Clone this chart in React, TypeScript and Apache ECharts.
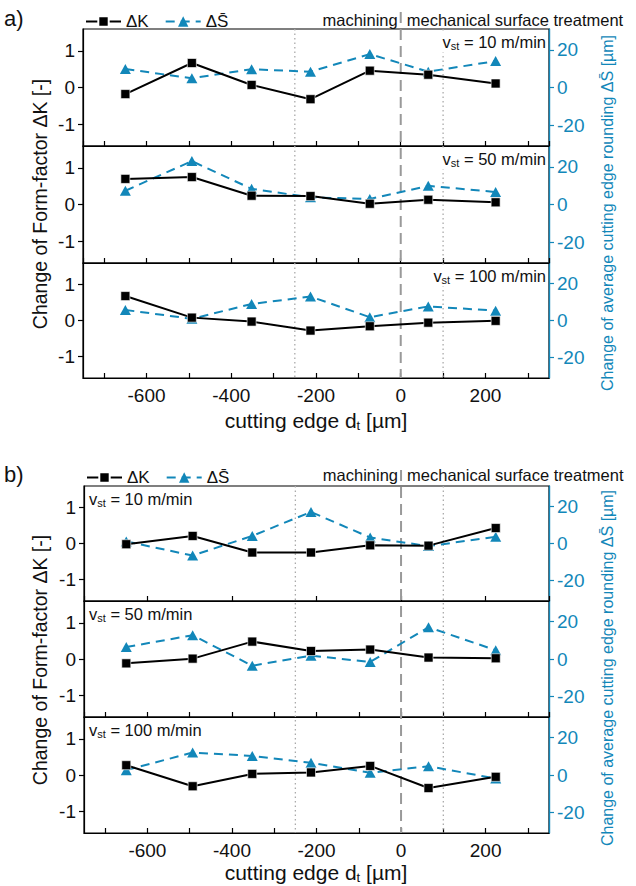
import React, { useEffect, useRef } from 'react';
import * as echarts from 'echarts';

// x positions (cutting edge d_t in µm)
const X_POS = [-650, -493, -352, -213, -73, 65, 224];

// panel a
const A10_K = [-0.18, 0.67, 0.07, -0.32, 0.46, 0.35, 0.11];
const A10_S = [9.8, 4.9, 9.7, 8.4, 17.7, 8.4, 14.0];
const A50_K = [0.7, 0.75, 0.24, 0.23, 0.02, 0.13, 0.06];
const A50_S = [7.3, 23.0, 8.3, 3.8, 2.9, 9.9, 6.6];
const A100_K = [0.68, 0.08, -0.03, -0.28, -0.16, -0.06, -0.01];
const A100_S = [5.7, 0.9, 8.9, 12.9, 1.8, 7.6, 5.3];
// panel b
const B10_K = [-0.02, 0.21, -0.25, -0.25, -0.05, -0.06, 0.43];
const B10_S = [1.1, -6.5, 4.1, 17.0, 3.2, -1.4, 3.6];
const B50_K = [-0.12, 0.01, 0.48, 0.22, 0.26, 0.04, 0.02];
const B50_S = [6.4, 12.7, -3.6, 1.8, -1.6, 17.0, 4.7];
const B100_K = [0.27, -0.31, 0.03, 0.07, 0.25, -0.36, -0.05];
const B100_S = [2.6, 12.0, 10.2, 6.5, 1.2, 4.7, -1.9];

const K_SETS = [A10_K, A50_K, A100_K, B10_K, B50_K, B100_K];
const S_SETS = [A10_S, A50_S, A100_S, B10_S, B50_S, B100_S];
const SPEEDS = ['10', '50', '100', '10', '50', '100'];
const REF_LINES_DOTTED = [-250, 100];
const REF_LINE_DASHED = 0;
const NAME_K = 'ΔK';
const NAME_S = 'ΔS\u0304';

const BLUE = '#1287b9';
const FONT = 'Liberation Sans, Arial, Helvetica, sans-serif';

const GRIDS = [
  { left: 83, top: 29, width: 466, height: 117 },
  { left: 83, top: 146, width: 466, height: 117 },
  { left: 83, top: 263, width: 466, height: 115 },
  { left: 84, top: 486, width: 465, height: 115 },
  { left: 84, top: 601, width: 465, height: 116 },
  { left: 84, top: 717, width: 465, height: 116 },
];

export default function App() {
  const ref = useRef<HTMLDivElement>(null);
  useEffect(() => {
    if (!ref.current) return;
    const chart = echarts.init(ref.current, null, { renderer: 'svg' });
    const xAxis: any[] = [];
    const yAxis: any[] = [];
    const series: any[] = [];
    GRIDS.forEach((g, i) => {
      const bottom = i === 2 || i === 5;
      const step = i === 3 ? 200 : 100;
      xAxis.push({
        type: 'value', gridIndex: i, position: 'bottom', min: -750, max: 350,
        minInterval: step, maxInterval: step,
        axisLine: { show: true, onZero: false, lineStyle: { color: '#000', width: 1.2 } },
        axisTick: { show: true, inside: true, length: 5, lineStyle: { color: '#000', width: 1.2 } },
        axisLabel: {
          show: bottom, margin: 8, fontSize: 19, color: '#111', fontFamily: FONT,
          showMinLabel: false, showMaxLabel: false,
          formatter: (v: number) => (v % 200 === 0 && v > -750 && v < 350 ? String(v) : ''),
        },
        splitLine: { show: false },
      });
      yAxis.push({
        type: 'value', gridIndex: i, position: 'left', min: -1.6, max: 1.6,
        minInterval: 1, maxInterval: 1,
        axisLine: { show: true, onZero: false, lineStyle: { color: '#000', width: 1.2 } },
        axisTick: { show: true, inside: false, length: 5, lineStyle: { color: '#000', width: 1.2 } },
        axisLabel: {
          margin: 8, fontSize: 19, color: '#111', fontFamily: FONT,
          showMinLabel: false, showMaxLabel: false,
          formatter: (v: number) => (Math.abs(v - Math.round(v)) < 1e-6 ? String(Math.round(v)) : ''),
        },
        splitLine: { show: false },
      });
      yAxis.push({
        type: 'value', gridIndex: i, position: 'right', min: -31, max: 31,
        minInterval: 20, maxInterval: 20,
        axisLine: { show: true, onZero: false, lineStyle: { color: BLUE, width: 1.4 } },
        axisTick: { show: true, inside: false, length: 5, lineStyle: { color: BLUE, width: 1.2 } },
        axisLabel: {
          margin: 8, fontSize: 19, color: BLUE, fontFamily: FONT,
          showMinLabel: false, showMaxLabel: false,
          formatter: (v: number) => (Math.round(v) % 20 === 0 && Math.abs(v) < 30 ? String(Math.round(v)) : ''),
        },
        splitLine: { show: false },
      });
      series.push({
        type: 'line', name: NAME_K, xAxisIndex: i, yAxisIndex: 2 * i,
        data: X_POS.map((x, j) => [x, K_SETS[i][j]]),
        symbol: 'rect', symbolSize: 9,
        itemStyle: { color: '#000', borderColor: '#fff', borderWidth: 0.6 },
        lineStyle: { color: '#000', width: 2 }, z: 4,
      });
      series.push({
        type: 'line', name: NAME_S, xAxisIndex: i, yAxisIndex: 2 * i + 1,
        data: X_POS.map((x, j) => [x, S_SETS[i][j]]),
        symbol: 'triangle', symbolSize: [11, 10],
        itemStyle: { color: BLUE },
        lineStyle: { color: BLUE, width: 2, type: [9, 6] }, z: 3,
      });
    });

    const legendBase = {
      data: [NAME_K, NAME_S], itemWidth: 35, itemHeight: 13, itemGap: 16,
      textStyle: { fontSize: 17, color: '#111', fontFamily: FONT },
      selectedMode: false,
    };

    chart.setOption({
      animation: false,
      textStyle: { fontFamily: FONT },
      grid: GRIDS.map((g) => ({ ...g, show: true, borderColor: '#000', borderWidth: 1.2, backgroundColor: 'transparent' })),
      xAxis, yAxis, series,
      legend: [
        { ...legendBase, left: 80, top: 8 },
        { ...legendBase, left: 81, top: 464 },
      ],
    });

    const graphic: any[] = [];
    const panels = [
      { grid: 0, top: GRIDS[0].top, bottom: GRIDS[2].top + GRIDS[2].height, label: 'a)', labelY: 18, headY: 20, dashTop: 12, xNameY: 420, nameLY: 204, nameRY: 213, vstRight: true },
      { grid: 3, top: GRIDS[3].top, bottom: GRIDS[5].top + GRIDS[5].height, label: 'b)', labelY: 474, headY: 475, dashTop: 470, xNameY: 872, nameLY: 660, nameRY: 668, vstRight: false },
    ];
    panels.forEach((p) => {
      REF_LINES_DOTTED.forEach((v) => {
        const px = chart.convertToPixel({ xAxisIndex: p.grid }, v) as number;
        graphic.push({ type: 'line', z: 1, shape: { x1: px, y1: p.top, x2: px, y2: p.bottom }, style: { stroke: '#aaa', lineWidth: 1.3, lineDash: [1.5, 3] } });
      });
      const px0 = chart.convertToPixel({ xAxisIndex: p.grid }, REF_LINE_DASHED) as number;
      graphic.push({ type: 'line', z: 1, shape: { x1: px0, y1: p.dashTop, x2: px0, y2: p.bottom }, style: { stroke: '#999', lineWidth: 2, lineDash: [11, 6] } });
      graphic.push({ type: 'text', x: 4, y: p.labelY, style: { text: p.label, fontSize: 22, fontFamily: FONT, fill: '#111', align: 'left', verticalAlign: 'middle' } });
      graphic.push({ type: 'text', x: px0 - 3, y: p.headY, style: { text: 'machining', fontSize: 16.5, fontFamily: FONT, fill: '#111', align: 'right', verticalAlign: 'middle' } });
      graphic.push({ type: 'text', x: px0 + 6, y: p.headY, style: { text: 'mechanical surface treatment', fontSize: 16.5, fontFamily: FONT, fill: '#111', align: 'left', verticalAlign: 'middle' } });
      graphic.push({ type: 'text', x: 40, y: p.nameLY, rotation: Math.PI / 2, style: { text: 'Change of Form-factor ΔK [-]', fontSize: 19.5, fontFamily: FONT, fill: '#111', align: 'center', verticalAlign: 'middle' } });
      graphic.push({ type: 'text', x: 607, y: p.nameRY, rotation: Math.PI / 2, style: { text: 'Change of average cutting edge rounding ΔS\u0304 [µm]', fontSize: 16, fontFamily: FONT, fill: BLUE, align: 'center', verticalAlign: 'middle' } });
      graphic.push({
        type: 'text', x: 316, y: p.xNameY,
        style: {
          text: '{a|cutting edge d}{b|t}{a| [µm]}', align: 'center', verticalAlign: 'middle',
          rich: {
            a: { fontSize: 21, fontFamily: FONT, fill: '#111', lineHeight: 24 },
            b: { fontSize: 13, fontFamily: FONT, fill: '#111', lineHeight: 12, verticalAlign: 'bottom' },
          },
        },
      });
      for (let k = 0; k < 3; k++) {
        const gi = p.grid + k;
        const g = GRIDS[gi];
        graphic.push({
          type: 'text', z: 2,
          x: p.vstRight ? g.left + g.width - 2 : g.left + 4,
          y: g.top + 13,
          style: {
            text: `{a|v}{b|st}{a| = ${SPEEDS[gi]} m/min}`,
            align: p.vstRight ? 'right' : 'left', verticalAlign: 'middle',
            backgroundColor: p.vstRight ? '#fff' : 'transparent', padding: [1, 1, 1, 1],
            rich: {
              a: { fontSize: 16.5, fontFamily: FONT, fill: '#111', lineHeight: 19 },
              b: { fontSize: 11, fontFamily: FONT, fill: '#111', lineHeight: 9, verticalAlign: 'bottom' },
            },
          },
        });
      }
    });
    chart.setOption({ graphic });

    return () => chart.dispose();
  }, []);
  return <div ref={ref} style={{ position: 'absolute', left: 0, top: 0, width: 636, height: 886, background: '#fff' }} />;
}
